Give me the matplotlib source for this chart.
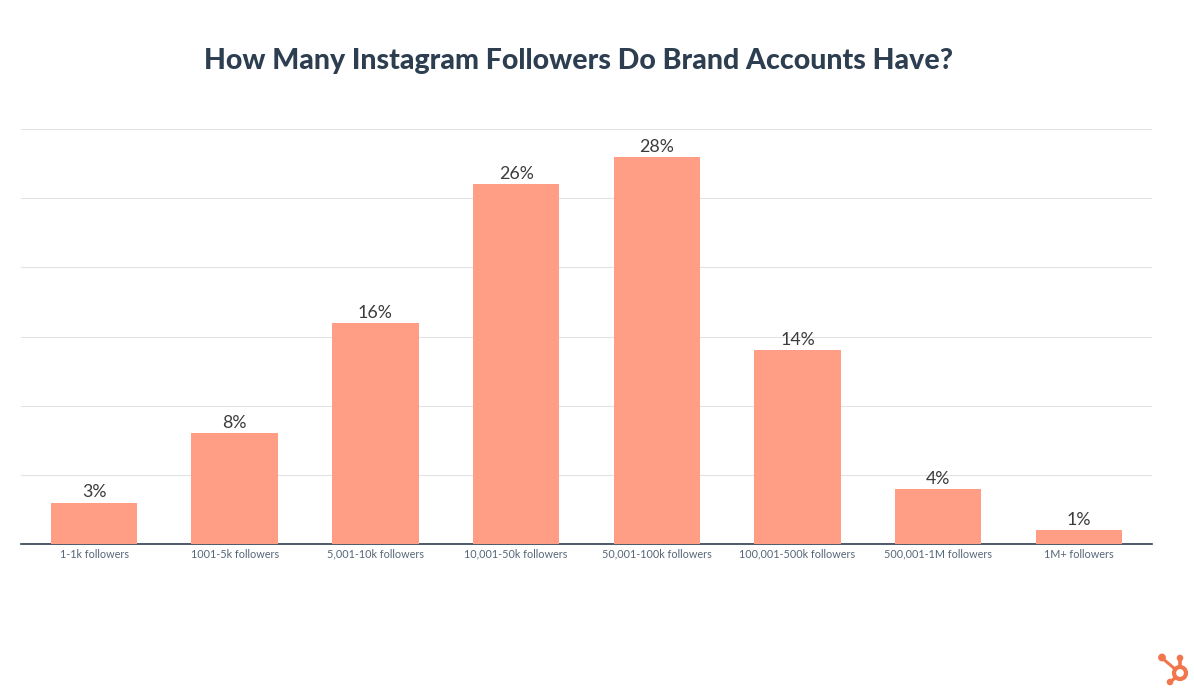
import matplotlib
matplotlib.use('Agg')
import matplotlib.pyplot as plt
from matplotlib.patches import Circle

categories = ['1-1k followers', '1001-5k followers', '5,001-10k followers', '10,001-50k followers',
              '50,001-100k followers', '100,001-500k followers', '500,001-1M followers', '1M+ followers']
shares = [3, 8, 16, 26, 28, 14, 4, 1]
y_ticks = [0, 5, 10, 15, 20, 25, 30]

plt.rcParams['font.family'] = ['Lato', 'DejaVu Sans']

fig = plt.figure(figsize=(11.94, 6.94), dpi=100)
ax = fig.add_axes([21 / 1194, 1 - 544 / 694, (1152 - 21) / 1194, (544 - 129) / 694])

x = range(len(categories))
ax.bar(x, shares, width=0.615, color='#ff9e84', zorder=3)
for i, v in zip(x, shares):
    ax.text(i, v + 0.15, f'{v}%', ha='center', va='bottom', fontsize=12.8, color='#3b3b3b')

ax.set_xlim(-0.519, 7.52)
ax.set_ylim(0, 30)
ax.set_yticks(y_ticks)
ax.set_yticklabels([])
ax.set_xticks(list(x))
ax.set_xticklabels(categories, fontsize=7.8, color='#566778')
ax.tick_params(axis='both', length=0)
ax.tick_params(axis='x', pad=3.5)
ax.grid(axis='y', color='#e0e3e7', linewidth=0.8, zorder=0)
ax.set_axisbelow(True)
for s in ['top', 'left', 'right']:
    ax.spines[s].set_visible(False)
ax.spines['bottom'].set_color('#2d3e50')
ax.spines['bottom'].set_linewidth(1.2)

fig.text(578 / 1194, 1 - 61 / 694, 'How Many Instagram Followers Do Brand Accounts Have?',
         ha='center', va='center', fontsize=20.5, fontweight='black', color='#2d3e50')

# logo in the corner
logo = fig.add_axes([1150 / 1194, 0, 44 / 1194, 44 / 694])
logo.set_xlim(1150, 1194)
logo.set_ylim(694, 650)
logo.axis('off')
orange = '#f0764e'
logo.add_patch(Circle((1180, 673), 6, fill=False, ec=orange, lw=3.0))
logo.plot([1180, 1180], [667, 658], color=orange, lw=2.6)
logo.plot([1175, 1162], [669, 658], color=orange, lw=2.2)
logo.plot([1175, 1170], [678, 682], color=orange, lw=2.4)
logo.add_patch(Circle((1162, 657.5), 3.2, color=orange))
logo.add_patch(Circle((1180, 658), 2.6, color=orange))
logo.add_patch(Circle((1170, 682), 2.6, color=orange))

fig.savefig('out.png', dpi=100)
